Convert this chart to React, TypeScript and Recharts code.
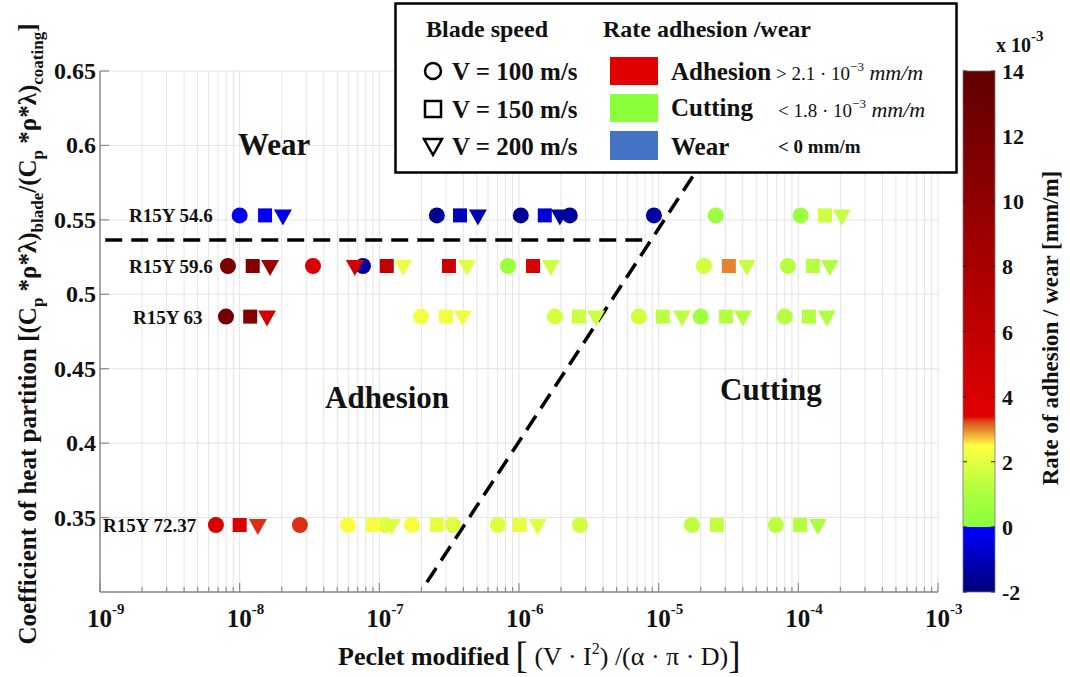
import React from "react";
import {
  CartesianGrid,
  ReferenceLine,
  Scatter,
  ScatterChart,
  XAxis,
  YAxis,
} from "recharts";

// rows of the experiment (label + heat partition coefficient)
const rows = ["R15Y 54.6", "R15Y 59.6", "R15Y 63", "R15Y 72.37"];
const rowHeat = [0.553, 0.519, 0.485, 0.345];

// [row index, peclet modified, rate adhesion/wear (x1e-3 mm/m)]
type Pt = [number, number, number];

const v100: Pt[] = [
  [0, 1.0e-8, -0.2], [0, 2.58e-7, -1.6], [0, 1.03e-6, -1.6], [0, 2.31e-6, -1.5],
  [0, 9.25e-6, -1.4], [0, 2.56e-5, 0.6], [0, 1.04e-4, 0.6],
  [1, 8.24e-9, 12], [1, 3.35e-8, 4], [1, 7.63e-8, -1.4], [1, 8.34e-7, 0.6],
  [1, 2.11e-5, 1.7], [1, 8.41e-5, 1.2],
  [2, 7.98e-9, 12.5], [2, 1.99e-7, 2.3], [2, 1.81e-6, 1.8], [2, 7.21e-6, 1.7],
  [2, 2.0e-5, 0.7], [2, 8.0e-5, 1.2],
  [3, 6.76e-9, 4], [3, 2.7e-8, 3.3], [3, 5.96e-8, 2.4], [3, 1.1e-7, 2.0],
  [3, 1.71e-7, 2.4], [3, 3.36e-7, 2.0], [3, 7.06e-7, 1.9], [3, 2.73e-6, 1.7],
  [3, 1.73e-5, 1.4], [3, 6.9e-5, 1.3],
];

const v150: Pt[] = [
  [0, 1.52e-8, -0.2], [0, 3.78e-7, -1.0], [0, 1.53e-6, -0.6], [0, 1.55e-4, 1.6],
  [1, 1.24e-8, 11], [1, 1.13e-7, 6], [1, 3.15e-7, 5], [1, 1.26e-6, 4],
  [1, 3.18e-5, 3.0], [1, 1.27e-4, 1.2],
  [2, 1.19e-8, 11], [2, 3.0e-7, 2.3], [2, 2.69e-6, 1.6], [2, 1.07e-5, 1.3],
  [2, 3.03e-5, 1.2], [2, 1.19e-4, 1.1],
  [3, 1.0e-8, 4], [3, 8.99e-8, 2.4], [3, 2.58e-7, 2.1], [3, 1.01e-6, 2.1],
  [3, 2.61e-5, 1.4], [3, 1.03e-4, 1.2],
];

const v200: Pt[] = [
  [0, 2.04e-8, -0.3], [0, 5.08e-7, -1.2], [0, 1.96e-6, -1.4], [0, 2.05e-4, 1.5],
  [1, 1.65e-8, 9], [1, 6.68e-8, 4.5], [1, 1.48e-7, 2.2], [1, 4.24e-7, 2.0],
  [1, 1.69e-6, 1.6], [1, 4.28e-5, 1.5], [1, 1.68e-4, 1.1],
  [2, 1.57e-8, 4.5], [2, 3.96e-7, 2.2], [2, 3.56e-6, 1.6], [2, 1.47e-5, 1.3],
  [2, 4.01e-5, 1.2], [2, 1.6e-4, 1.1],
  [3, 1.35e-8, 3.3], [3, 1.23e-7, 1.9], [3, 1.36e-6, 1.9], [3, 1.38e-4, 1.0],
];

// dashed region boundaries
const wearLine = [{ pe: 1.09e-9, heat: 0.5364 }, { pe: 8.2e-6, heat: 0.5364 }];
const cutLine = [{ pe: 2.19e-7, heat: 0.3066 }, { pe: 5.48e-5, heat: 0.65 }];

const decades = [-9, -8, -7, -6, -5, -4, -3];
const heatTicks = [0.35, 0.4, 0.45, 0.5, 0.55, 0.6, 0.65];
const rateTicks = [-2, 0, 2, 4, 6, 8, 10, 12, 14];

const xTicks: number[] = [];
decades.forEach((d) => {
  xTicks.push(Math.pow(10, d));
  if (d < -3) for (let m = 2; m <= 9; m++) xTicks.push(m * Math.pow(10, d));
});

const toData = (pts: Pt[]) =>
  pts.map(([r, pe, rate]) => ({ pe, heat: rowHeat[r], rate }));

// colour map of the colour bar
const cmap: [number, number[]][] = [
  [-2, [0, 0, 120]],
  [-0.001, [0, 0, 255]],
  [0, [136, 255, 60]],
  [1, [170, 255, 64]],
  [2, [225, 255, 64]],
  [2.5, [255, 255, 64]],
  [2.75, [245, 190, 60]],
  [3.0, [230, 130, 45]],
  [3.25, [220, 70, 25]],
  [3.4, [224, 0, 0]],
  [14, [96, 0, 0]],
];

const rateColor = (r: number) => {
  if (r <= cmap[0][0]) return `rgb(${cmap[0][1].join(",")})`;
  for (let i = 1; i < cmap.length; i++) {
    const [r1, c1] = cmap[i];
    const [r0, c0] = cmap[i - 1];
    if (r <= r1) {
      const t = (r - r0) / (r1 - r0);
      const c = c0.map((v, k) => Math.round(v + (c1[k] - v) * t));
      return `rgb(${c.join(",")})`;
    }
  }
  return `rgb(${cmap[cmap.length - 1][1].join(",")})`;
};

const FONT = "'Liberation Serif', 'Times New Roman', serif";
const TOP = 71;
const BOTTOM = 592;
const yPx = (v: number) => TOP + ((0.65 - v) / 0.35) * (BOTTOM - TOP);

const makeShape = (kind: string) => (props: any) => {
  const { cx, cy, payload } = props;
  const fill = rateColor(payload.rate);
  if (kind === "circle") return <circle cx={cx} cy={cy} r={8} fill={fill} />;
  if (kind === "square")
    return <rect x={cx - 7} y={cy - 7} width={14} height={14} fill={fill} />;
  return (
    <polygon
      points={`${cx - 9},${cy - 6} ${cx + 9},${cy - 6} ${cx},${cy + 10}`}
      fill={fill}
    />
  );
};

const XTick = (p: any) => {
  const { x, y, payload } = p;
  const e = Math.log10(payload.value);
  const major = Math.abs(e - Math.round(e)) < 1e-6;
  return (
    <g>
      <line x1={x} x2={x} y1={y} y2={y - (major ? 9 : 5)} stroke="#8a8a8a" strokeWidth={1.2} />
      {major && (
        <text x={x - 13} y={y + 35} fontFamily={FONT} fontWeight="bold" fontSize={25} fill="#111">
          10
          <tspan dy={-13} fontSize={15}>
            {"-" + Math.abs(Math.round(e))}
          </tspan>
        </text>
      )}
    </g>
  );
};

const YTick = (p: any) => {
  const { x, y, payload } = p;
  return (
    <g>
      <line x1={x} x2={x + 9} y1={y} y2={y} stroke="#8a8a8a" strokeWidth={1.2} />
      <text x={x - 4} y={y + 8} textAnchor="end" fontFamily={FONT} fontWeight="bold" fontSize={24} fill="#111">
        {String(payload.value)}
      </text>
    </g>
  );
};

const Overlay = () => {
  const barTop = TOP;
  const barBottom = BOTTOM;
  const rateY = (r: number) => barTop + ((14 - r) / 16) * (barBottom - barTop);
  const txt = { fontFamily: FONT, fontWeight: "bold" as const, fill: "#111" };
  const stops = [...cmap].reverse();
  return (
    <svg
      width={1070}
      height={677}
      style={{ position: "absolute", left: 0, top: 0, pointerEvents: "none" }}
    >
      <defs>
        <linearGradient id="cbar" x1="0" y1="0" x2="0" y2="1">
          {stops.map(([r, c], i) => (
            <stop key={i} offset={(14 - r) / 16} stopColor={`rgb(${c.join(",")})`} />
          ))}
        </linearGradient>
      </defs>

      {/* region names */}
      <text x={238} y={155} fontSize={31} {...txt}>Wear</text>
      <text x={325} y={408} fontSize={31} {...txt}>Adhesion</text>
      <text x={720} y={400} fontSize={31} {...txt}>Cutting</text>

      {/* row labels */}
      {rows.map((r, i) => (
        <text
          key={r}
          x={i === 3 ? 103 : i === 2 ? 133 : 129}
          y={yPx(rowHeat[i]) + 7}
          fontSize={19}
          {...txt}
        >
          {r}
        </text>
      ))}

      {/* legend box */}
      <rect x={395.5} y={3.5} width={561} height={169} fill="#fff" stroke="#000" strokeWidth={2.5} />
      <text x={426} y={37} fontSize={24} {...txt}>Blade speed</text>
      <text x={603} y={37} fontSize={24} {...txt}>Rate adhesion /wear</text>

      <circle cx={433} cy={71} r={8} fill="none" stroke="#000" strokeWidth={2.5} />
      <rect x={425} y={101} width={16} height={16} fill="none" stroke="#000" strokeWidth={2.5} />
      <polygon points="424,139 442,139 433,155" fill="none" stroke="#000" strokeWidth={2.5} />
      <text x={452} y={80} fontSize={25} {...txt}>V = 100 m/s</text>
      <text x={452} y={118} fontSize={25} {...txt}>V = 150 m/s</text>
      <text x={452} y={155} fontSize={25} {...txt}>V = 200 m/s</text>

      <rect x={610} y={57} width={48} height={28} fill="#e00000" />
      <rect x={610} y={94} width={48} height={28} fill="#8cff3c" />
      <rect x={610} y={131} width={48} height={29} fill="#4472c4" />
      <text x={671} y={80} fontSize={25} {...txt}>Adhesion</text>
      <text x={671} y={116} fontSize={25} {...txt}>Cutting</text>
      <text x={671} y={155} fontSize={25} {...txt}>Wear</text>

      <text x={776} y={80} fontFamily={FONT} fontSize={19} fill="#111">
        {"> 2.1 · 10"}
        <tspan dy={-9} fontSize={13}>{"−3"}</tspan>
        <tspan dy={9} fontSize={22} fontStyle="italic">{" mm/m"}</tspan>
      </text>
      <text x={778} y={117} fontFamily={FONT} fontSize={19} fill="#111">
        {"< 1.8 · 10"}
        <tspan dy={-9} fontSize={13}>{"−3"}</tspan>
        <tspan dy={9} fontSize={22} fontStyle="italic">{" mm/m"}</tspan>
      </text>
      <text x={778} y={153} fontSize={19} {...txt}>{"< 0 mm/m"}</text>

      {/* colour bar */}
      <rect x={963} y={barTop} width={32} height={barBottom - barTop} fill="url(#cbar)" stroke="#777" strokeWidth={0.8} />
      {rateTicks.map((r) => (
        <g key={r}>
          <line x1={963} x2={967} y1={rateY(r)} y2={rateY(r)} stroke="#222" />
          <line x1={991} x2={995} y1={rateY(r)} y2={rateY(r)} stroke="#222" />
          <text x={1002} y={rateY(r) + 8} fontSize={22} {...txt}>{String(r)}</text>
        </g>
      ))}
      <text x={996} y={52} fontSize={20} {...txt}>
        x 10
        <tspan dy={-11} fontSize={15}>-3</tspan>
      </text>
      <text
        transform="translate(1058 328) rotate(-90)"
        textAnchor="middle"
        fontSize={23}
        {...txt}
      >
        Rate of adhesion / wear [mm/m]
      </text>

      {/* axis titles */}
      <text transform="translate(36 334) rotate(-90)" textAnchor="middle" fontSize={25} {...txt}>
        Coefficient of heat partition [(C
        <tspan dy={7} fontSize={17}>p</tspan>
        <tspan dy={-7}> *ρ*λ)</tspan>
        <tspan dy={7} fontSize={17}>blade</tspan>
        <tspan dy={-7}>/(C</tspan>
        <tspan dy={7} fontSize={17}>p</tspan>
        <tspan dy={-7}> *ρ*λ)</tspan>
        <tspan dy={7} fontSize={17}>coating</tspan>
        <tspan dy={-7}>]</tspan>
      </text>
      <text x={338} y={665} fontSize={26} {...txt}>
        {"Peclet modified "}
        <tspan fontSize={37} fontWeight="normal" dy={3}>[</tspan>
        <tspan fontWeight="normal" dy={-3}>{" (V · I"}</tspan>
        <tspan fontWeight="normal" fontSize={16} dy={-11}>2</tspan>
        <tspan fontWeight="normal" dy={11}>{") /(α · π · D)"}</tspan>
        <tspan fontSize={37} fontWeight="normal" dy={3}>]</tspan>
      </text>
    </svg>
  );
};

export default function App() {
  return (
    <div
      style={{
        position: "absolute",
        left: 0,
        top: 0,
        width: 1070,
        height: 677,
        background: "#fff",
      }}
    >
      <ScatterChart
        width={1070}
        height={677}
        margin={{ top: TOP, right: 132, bottom: 0, left: 0 }}
      >
        <CartesianGrid stroke="#e4e4e4" />
        <XAxis
          type="number"
          dataKey="pe"
          scale="log"
          domain={[1e-9, 1e-3]}
          ticks={xTicks}
          interval={0}
          allowDataOverflow
          tick={(p: any) => <XTick {...p} />}
          tickLine={false}
          tickSize={0}
          tickMargin={0}
          height={677 - BOTTOM}
          stroke="#8a8a8a"
          strokeWidth={1.5}
        />
        <YAxis
          type="number"
          dataKey="heat"
          domain={[0.3, 0.65]}
          ticks={heatTicks}
          interval={0}
          allowDataOverflow
          tick={(p: any) => <YTick {...p} />}
          tickLine={false}
          tickSize={0}
          tickMargin={0}
          width={100}
          stroke="#8a8a8a"
          strokeWidth={1.5}
        />
        <Scatter data={toData(v100)} shape={makeShape("circle")} isAnimationActive={false} />
        <Scatter data={toData(v150)} shape={makeShape("square")} isAnimationActive={false} />
        <Scatter data={toData(v200)} shape={makeShape("triangle")} isAnimationActive={false} />
        <ReferenceLine
          segment={[
            { x: wearLine[0].pe, y: wearLine[0].heat },
            { x: wearLine[1].pe, y: wearLine[1].heat },
          ]}
          stroke="#000"
          strokeWidth={3.5}
          strokeDasharray="17 9"
        />
        <ReferenceLine
          segment={[
            { x: cutLine[0].pe, y: cutLine[0].heat },
            { x: cutLine[1].pe, y: cutLine[1].heat },
          ]}
          stroke="#000"
          strokeWidth={3.5}
          strokeDasharray="17 9"
        />
      </ScatterChart>
      <Overlay />
    </div>
  );
}
